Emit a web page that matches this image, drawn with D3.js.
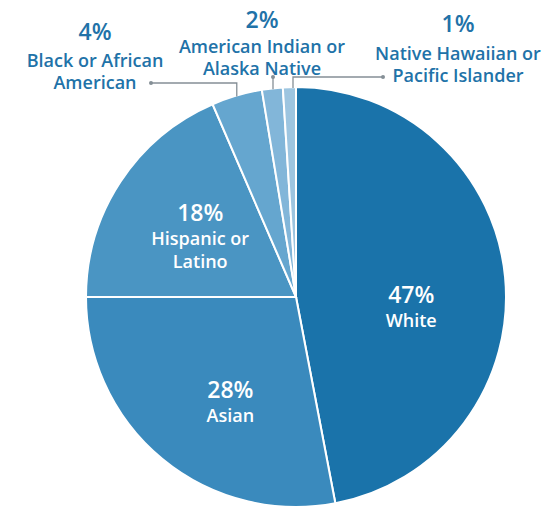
<!DOCTYPE html>
<html>
<head>
<meta charset="utf-8">
<script src="https://cdn.jsdelivr.net/npm/d3@7"></script>
<style>
  body { margin: 0; background: #fff; }
  text { font-family: "Open Sans", Lato, sans-serif; font-weight: 600; }
</style>
</head>
<body>
<div id="chart"></div>
<script>
var groups = ["White", "Asian", "Hispanic or Latino", "Black or African American",
              "American Indian or Alaska Native", "Native Hawaiian or Pacific Islander"];
var shares = [47, 28, 18.5, 3.9, 1.6, 1.0];
var shareLabels = ["47%", "28%", "18%", "4%", "2%", "1%"];
var nameLines = [["White"], ["Asian"], ["Hispanic or", "Latino"], ["Black or African", "American"],
                 ["American Indian or", "Alaska Native"], ["Native Hawaiian or", "Pacific Islander"]];
var colors = ["#1a73aa", "#3a8abd", "#4a95c3", "#65a6cf", "#82b6d9", "#9dc5e0"];

var width = 549, height = 508;
var cx = 296, cy = 297, radius = 210;

var svg = d3.select("#chart").append("svg")
            .attr("width", width)
            .attr("height", height);

var pie = d3.pie().sort(null).value(function (d) { return d; });
var arcs = pie(shares);

var arc = d3.arc().innerRadius(0).outerRadius(radius);

var g = svg.append("g").attr("transform", "translate(" + cx + "," + cy + ")");

g.selectAll("path")
 .data(arcs)
 .enter()
 .append("path")
 .attr("d", arc)
 .style("fill", function (d, i) { return colors[i]; })
 .style("stroke", "#fff")
 .style("stroke-width", 2);

// one <text> per line, stacked
function block(parent, x, y, i, gaps, fill) {
  parent.append("text")
        .attr("x", x).attr("y", y)
        .attr("text-anchor", "middle")
        .style("fill", fill)
        .style("font-size", "23px")
        .text(shareLabels[i]);
  var yy = y;
  nameLines[i].forEach(function (line, k) {
    yy += gaps[k];
    parent.append("text")
          .attr("x", x).attr("y", yy)
          .attr("text-anchor", "middle")
          .style("fill", fill)
          .style("font-size", "18px")
          .text(line);
  });
}

// labels inside the three big slices (centroid + small nudge)
var labelArc = d3.arc().innerRadius(radius * 0.58).outerRadius(radius * 0.58);
var inside = [
  { i: 0, dx: -6, dy: 17 },
  { i: 1, dx: 12, dy: 7 },
  { i: 2, dx: 6, dy: -9 }
];
inside.forEach(function (o) {
  var c = labelArc.centroid(arcs[o.i]);
  block(g, c[0] + o.dx, c[1] + o.dy, o.i, [24, 23], "#fff");
});

// outside labels with leader lines
var outside = [
  { i: 3, tx: 95, ty: 40, gap: [27, 22], dot: [151, 83], drop: null },
  { i: 4, tx: 262, ty: 28, gap: [25, 22], dot: [273, 77], drop: 273 },
  { i: 5, tx: 458, ty: 32, gap: [28, 22], dot: [383, 77], drop: 293 }
];
var blue = "#2172a8";
outside.forEach(function (o) {
  var a = arcs[o.i];
  var mid = (a.startAngle + a.endAngle) / 2;
  var px = o.drop === null ? cx + radius * Math.sin(mid) : o.drop;
  var ey = cy - Math.sqrt(radius * radius - (px - cx) * (px - cx));
  svg.append("polyline")
     .attr("points", [o.dot, [px, o.dot[1]], [px, ey + 1]].map(function (p) { return p.join(","); }).join(" "))
     .style("fill", "none")
     .style("stroke", "#858f96")
     .style("stroke-width", 1.3);
  svg.append("circle")
     .attr("cx", o.dot[0]).attr("cy", o.dot[1]).attr("r", 2)
     .style("fill", "#858f96");
  block(svg, o.tx, o.ty, o.i, o.gap, blue);
});
</script>
</body>
</html>
